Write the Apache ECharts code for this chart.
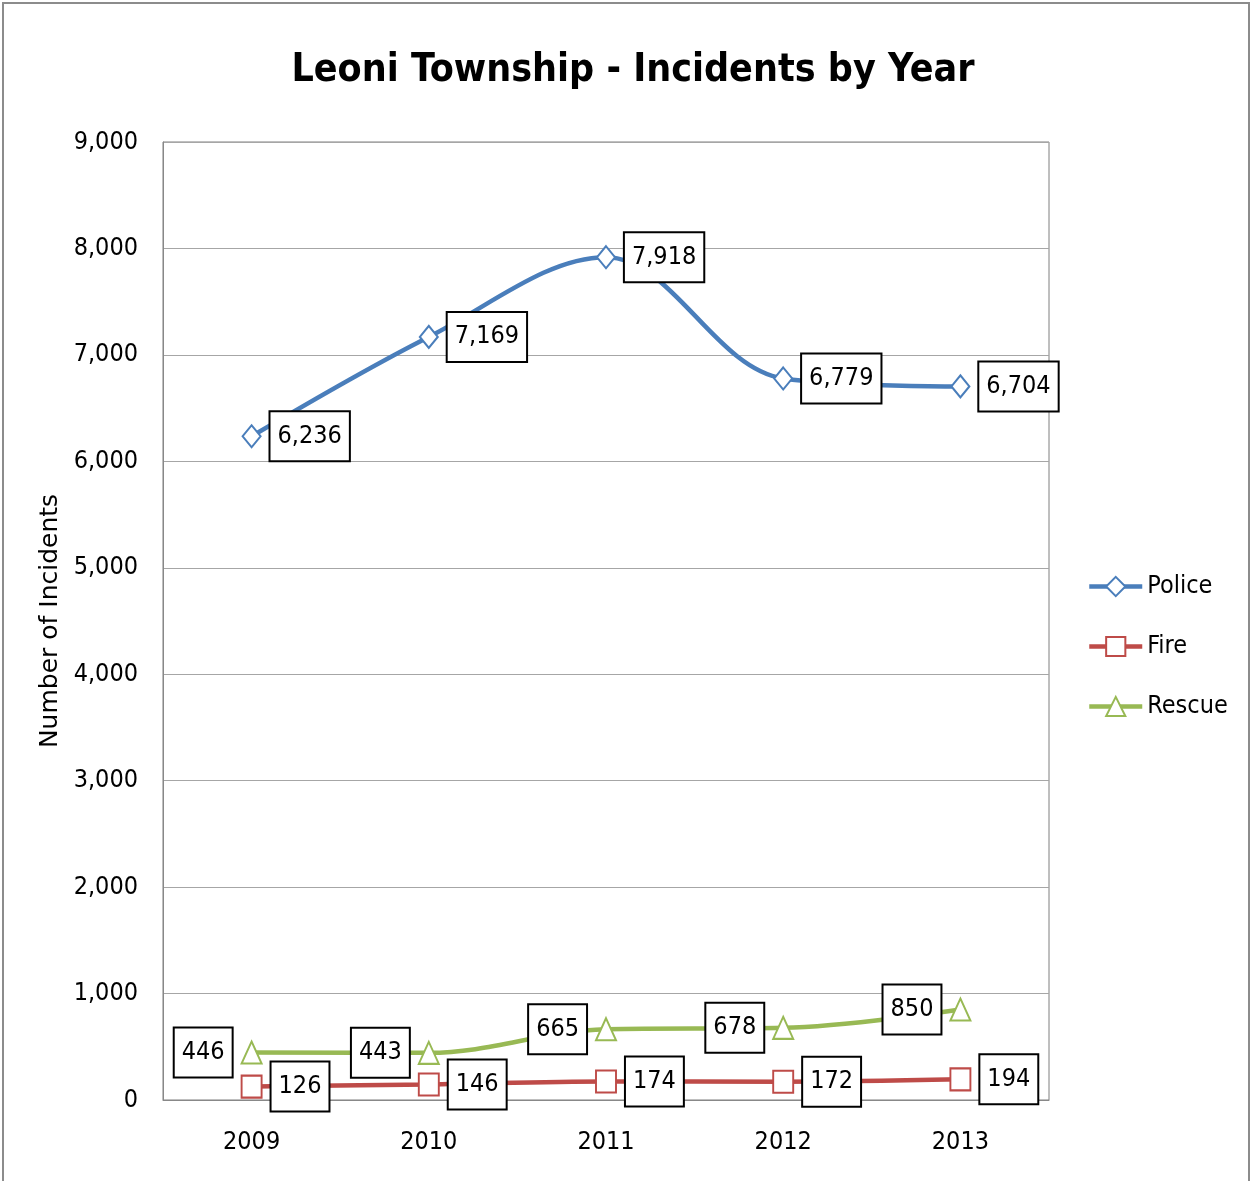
<!DOCTYPE html>
<html><head><meta charset="utf-8">
<script src="https://cdn.jsdelivr.net/npm/echarts@6/dist/echarts.min.js"></script>
<style>html,body{margin:0;padding:0;background:#fff}#c{width:1252px;height:1181px}</style>
</head><body><div id="c"></div>
<script>
const years = ['2009','2010','2011','2012','2013'];
const police = [6236, 7169, 7918, 6779, 6704];
const fire = [126, 146, 174, 172, 194];
const rescue = [446, 443, 665, 678, 850];
const yTicks = [0,1000,2000,3000,4000,5000,6000,7000,8000,9000];

const NF = "'Liberation Sans Narrow','DejaVu Sans Condensed','Arial Narrow',sans-serif";
const chart = echarts.init(document.getElementById('c'));
function boxLabel(pos){
  return {show:true, position:pos, distance:9, fontFamily:NF, fontSize:25, color:'#000',
    backgroundColor:'#fff', borderColor:'#000', borderWidth:2, padding:[8,7,7,7], lineHeight:33,
    formatter: p => p.value.toLocaleString('en-US')};
}
chart.setOption({
  animation:false,
  backgroundColor:'#fff',
  graphic:[{type:'rect', shape:{x:3,y:3,width:1246,height:1190}, style:{fill:'none', stroke:'#8c8c8c', lineWidth:2}, silent:true, z:-10}],
  title:{text:'Leoni Township - Incidents by Year', left:628, textAlign:'center', top:46,
    textStyle:{fontFamily:NF, fontSize:39, fontWeight:'bold', color:'#000'}},
  legend:{orient:'vertical', left:1082, top:569, itemWidth:53, itemHeight:24, itemGap:35,
    lineStyle:{width:4.5},
    textStyle:{fontFamily:NF, fontSize:25, color:'#000', padding:[0,0,0,0]},
    data:['Police','Fire','Rescue']},
  grid:{left:163, right:203, top:142, bottom:81, show:true, borderColor:'#7f7f7f', borderWidth:1},
  xAxis:{type:'category', data:years, boundaryGap:true,
    axisLine:{lineStyle:{color:'#888'}}, axisTick:{show:false},
    axisLabel:{fontFamily:NF, fontSize:25, color:'#000', margin:30}},
  yAxis:{type:'value', min:0, max:9000, interval:1000,
    name:'Number of Incidents', nameLocation:'middle', nameGap:62, nameRotate:90,
    nameTextStyle:{fontFamily:"'DejaVu Sans',sans-serif", fontSize:25, color:'#000'},
    axisLine:{show:true, lineStyle:{color:'#888'}}, axisTick:{show:false},
    splitLine:{lineStyle:{color:'#a6a6a6', width:1}},
    axisLabel:{fontFamily:NF, fontSize:25, color:'#000', margin:25,
      formatter: v => yTicks.includes(v) ? v.toLocaleString('en-US') : ''}},
  series:[
    {name:'Police', type:'line', data:police, smooth:0.35, symbol:'diamond', symbolSize:[18,22],
      lineStyle:{color:'#4a7ebb', width:4.5}, itemStyle:{color:'#fff', borderColor:'#4a7ebb', borderWidth:2},
      label:boxLabel('right'), z:3},
    {name:'Fire', type:'line', data:fire, smooth:0.35, symbol:'rect', symbolSize:[20,22],
      lineStyle:{color:'#be4b48', width:4.5}, itemStyle:{color:'#fff', borderColor:'#be4b48', borderWidth:2},
      label:boxLabel('right'), z:3},
    {name:'Rescue', type:'line', data:rescue, smooth:0.35, symbol:'triangle', symbolSize:[20,22],
      lineStyle:{color:'#98b954', width:4.5}, itemStyle:{color:'#fff', borderColor:'#98b954', borderWidth:2},
      label:boxLabel('left'), z:3}
  ]
});
</script></body></html>
